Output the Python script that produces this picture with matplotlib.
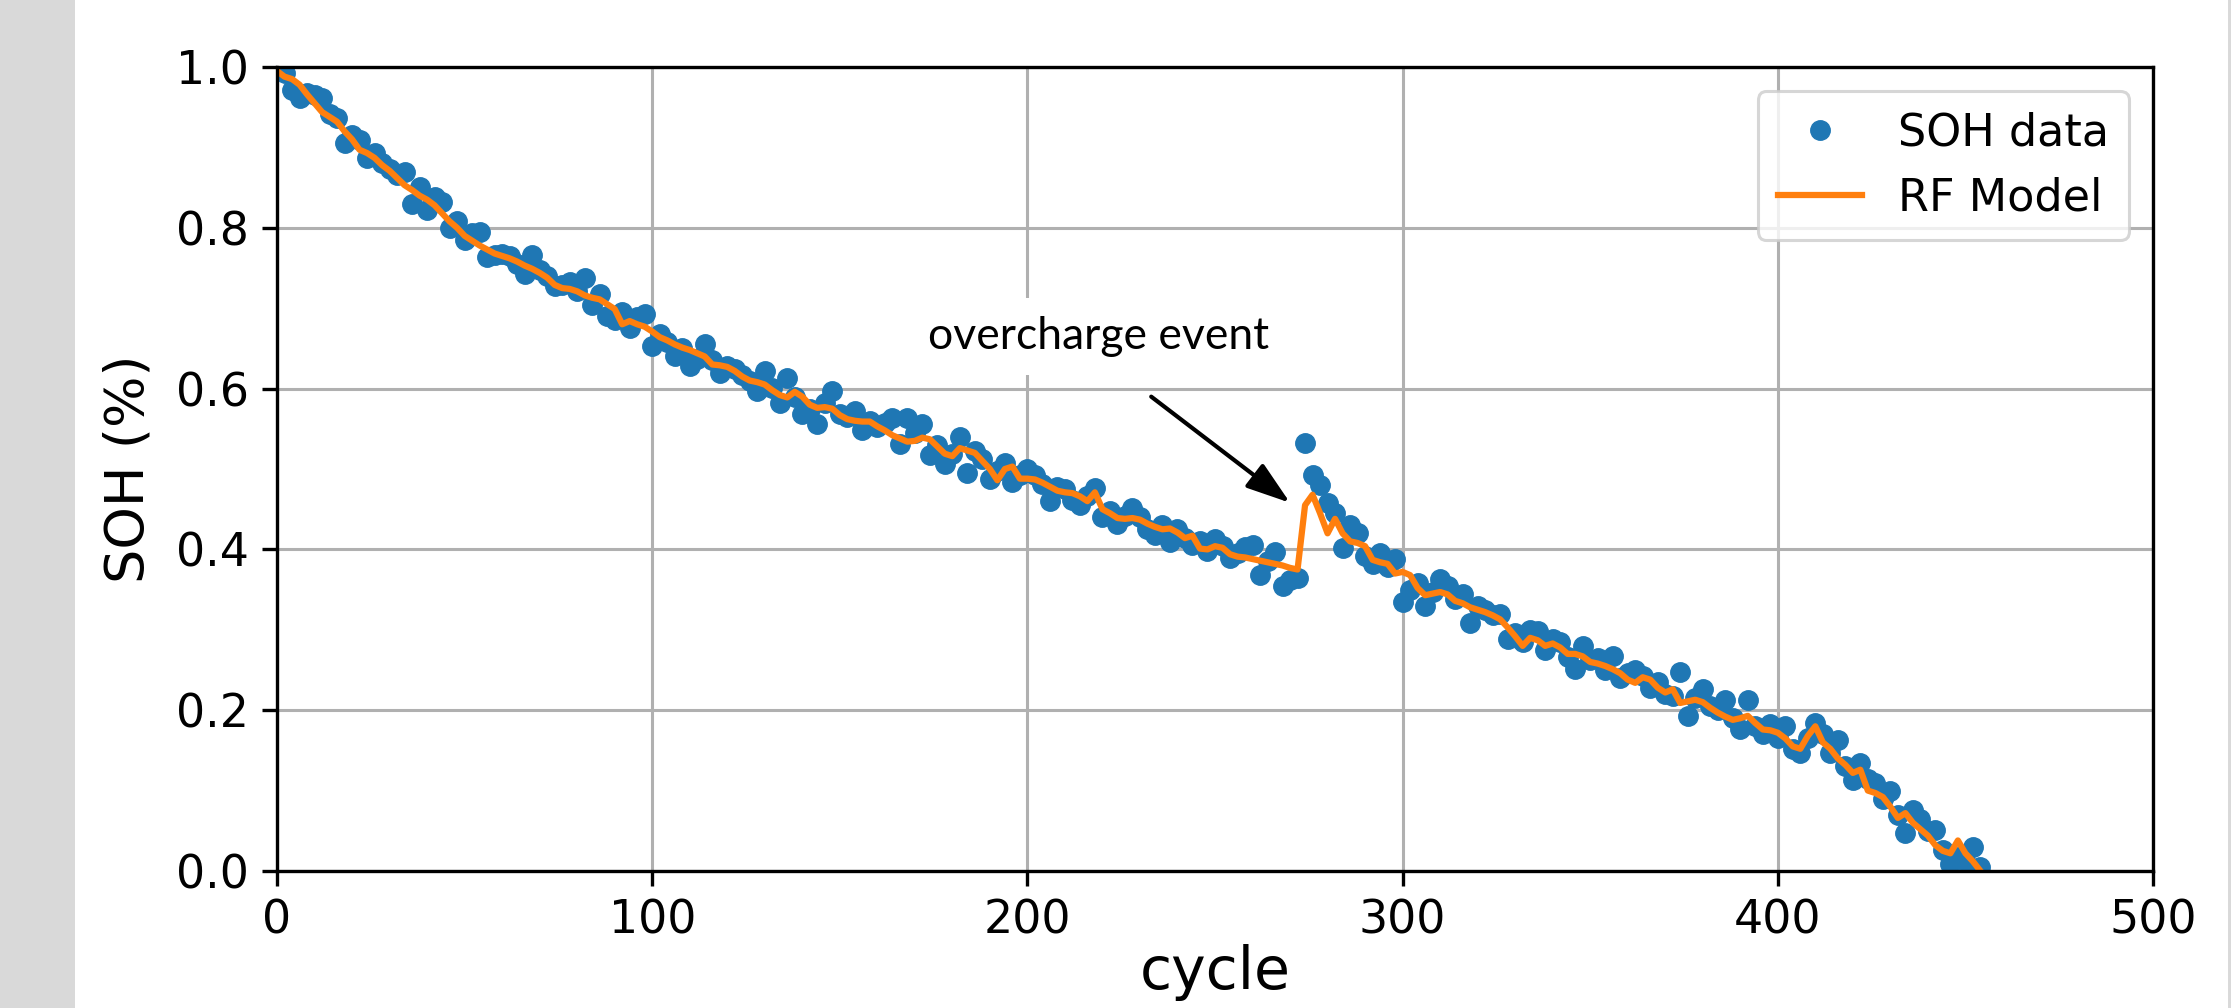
import numpy as np
import matplotlib
matplotlib.use("Agg")
import matplotlib.pyplot as plt
from matplotlib.patches import Rectangle

# SOH measurements, one value every 2 cycles (cycle 0, 2, 4, ...)
soh_data = [
    0.998, 0.993, 0.971, 0.962, 0.968, 0.965, 0.961, 0.941, 0.936, 0.905,  # 0-18
    0.915, 0.909, 0.887, 0.893, 0.880, 0.873, 0.866, 0.869, 0.829, 0.851,  # 20-38
    0.822, 0.838, 0.832, 0.800, 0.808, 0.785, 0.793, 0.795, 0.764, 0.766,  # 40-58
    0.768, 0.765, 0.755, 0.743, 0.766, 0.748, 0.740, 0.727, 0.729, 0.733,  # 60-78
    0.722, 0.737, 0.704, 0.718, 0.690, 0.685, 0.695, 0.675, 0.689, 0.693,  # 80-98
    0.653, 0.668, 0.658, 0.641, 0.650, 0.628, 0.637, 0.655, 0.636, 0.619,  # 100-118
    0.628, 0.625, 0.617, 0.609, 0.597, 0.622, 0.601, 0.582, 0.613, 0.590,  # 120-138
    0.569, 0.575, 0.556, 0.582, 0.597, 0.568, 0.565, 0.572, 0.548, 0.560,  # 140-158
    0.552, 0.557, 0.563, 0.531, 0.563, 0.545, 0.556, 0.518, 0.530, 0.506,  # 160-178
    0.519, 0.540, 0.495, 0.523, 0.512, 0.488, 0.497, 0.508, 0.484, 0.493,  # 180-198
    0.500, 0.492, 0.481, 0.460, 0.478, 0.475, 0.462, 0.455, 0.467, 0.476,  # 200-218
    0.440, 0.448, 0.432, 0.441, 0.451, 0.440, 0.425, 0.418, 0.430, 0.409,  # 220-238
    0.425, 0.414, 0.405, 0.410, 0.398, 0.413, 0.404, 0.389, 0.396, 0.403,  # 240-258
    0.405, 0.368, 0.386, 0.397, 0.355, 0.362, 0.365, 0.532, 0.492, 0.480,  # 260-278
    0.458, 0.445, 0.402, 0.430, 0.420, 0.392, 0.382, 0.395, 0.378, 0.388,  # 280-298
    0.334, 0.350, 0.358, 0.330, 0.347, 0.363, 0.355, 0.338, 0.345, 0.309,  # 300-318
    0.330, 0.325, 0.318, 0.320, 0.288, 0.296, 0.285, 0.300, 0.298, 0.275,  # 320-338
    0.288, 0.285, 0.266, 0.251, 0.280, 0.262, 0.265, 0.250, 0.268, 0.240,  # 340-358
    0.246, 0.250, 0.242, 0.228, 0.235, 0.220, 0.218, 0.247, 0.193, 0.215,  # 360-378
    0.226, 0.205, 0.200, 0.213, 0.190, 0.176, 0.213, 0.180, 0.170, 0.183,  # 380-398
    0.165, 0.180, 0.152, 0.147, 0.165, 0.184, 0.170, 0.147, 0.163, 0.130,  # 400-418
    0.113, 0.134, 0.115, 0.109, 0.090, 0.100, 0.070, 0.047, 0.076, 0.065,  # 420-438
    0.050, 0.051, 0.026, 0.009, 0.018, 0.012, 0.030, 0.005,                # 440-454
]

# random forest prediction at the same cycles
rf_model = [
    0.995, 0.988, 0.985, 0.978, 0.966, 0.955, 0.944, 0.938, 0.932, 0.920,  # 0-18
    0.910, 0.897, 0.893, 0.887, 0.878, 0.871, 0.862, 0.853, 0.847, 0.840,  # 20-38
    0.835, 0.828, 0.818, 0.808, 0.800, 0.790, 0.784, 0.778, 0.773, 0.768,  # 40-58
    0.765, 0.762, 0.758, 0.753, 0.749, 0.744, 0.738, 0.729, 0.725, 0.724,  # 60-78
    0.721, 0.716, 0.713, 0.711, 0.705, 0.699, 0.680, 0.684, 0.680, 0.677,  # 80-98
    0.671, 0.664, 0.660, 0.655, 0.651, 0.648, 0.644, 0.640, 0.630, 0.629,  # 100-118
    0.627, 0.622, 0.615, 0.610, 0.608, 0.605, 0.598, 0.592, 0.589, 0.596,  # 120-138
    0.590, 0.580, 0.576, 0.577, 0.575, 0.567, 0.562, 0.560, 0.559, 0.559,  # 140-158
    0.553, 0.548, 0.542, 0.538, 0.534, 0.535, 0.539, 0.537, 0.528, 0.519,  # 160-178
    0.516, 0.526, 0.523, 0.520, 0.510, 0.500, 0.486, 0.500, 0.503, 0.488,  # 180-198
    0.488, 0.487, 0.483, 0.478, 0.473, 0.471, 0.470, 0.466, 0.460, 0.471,  # 200-218
    0.450, 0.445, 0.439, 0.438, 0.439, 0.437, 0.432, 0.428, 0.425, 0.426,  # 220-238
    0.421, 0.414, 0.417, 0.401, 0.400, 0.404, 0.402, 0.394, 0.391, 0.390,  # 240-258
    0.388, 0.386, 0.384, 0.382, 0.380, 0.377, 0.375, 0.455, 0.468, 0.445,  # 260-278
    0.420, 0.438, 0.420, 0.410, 0.408, 0.404, 0.387, 0.384, 0.382, 0.370,  # 280-298
    0.372, 0.368, 0.352, 0.343, 0.345, 0.347, 0.344, 0.336, 0.333, 0.328,  # 300-318
    0.325, 0.322, 0.318, 0.313, 0.303, 0.292, 0.280, 0.290, 0.287, 0.280,  # 320-338
    0.283, 0.278, 0.270, 0.270, 0.267, 0.260, 0.258, 0.255, 0.251, 0.246,  # 340-358
    0.238, 0.234, 0.241, 0.238, 0.228, 0.222, 0.226, 0.209, 0.211, 0.213,  # 360-378
    0.210, 0.203, 0.197, 0.192, 0.188, 0.190, 0.193, 0.184, 0.176, 0.175,  # 380-398
    0.172, 0.165, 0.155, 0.152, 0.168, 0.180, 0.160, 0.152, 0.140, 0.132,  # 400-418
    0.122, 0.126, 0.100, 0.097, 0.092, 0.080, 0.066, 0.072, 0.060, 0.052,  # 420-438
    0.044, 0.032, 0.025, 0.022, 0.038, 0.022, 0.012, 0.000,                # 440-454
]

cycles = np.arange(0, 2 * len(soh_data), 2)

x_ticks = [0, 100, 200, 300, 400, 500]
y_ticks = [0.0, 0.2, 0.4, 0.6, 0.8, 1.0]

# where the overcharge note sits and what it points at (cycle, SOH)
note_text = "overcharge event"
note_pos = (219, 0.665)
arrow_tail = (233, 0.590)
arrow_tip = (270, 0.458)

W, H = 2231, 1008
fig = plt.figure(figsize=(W / 100, H / 100), dpi=100)
fig.patch.set_facecolor("white")

# grey slide margins on both sides
fig.patches.append(Rectangle((0, 0), 75 / W, 1, transform=fig.transFigure,
                             facecolor="#d9d9d9", edgecolor="none", zorder=0))
fig.patches.append(Rectangle((2228 / W, 0), 3 / W, 1, transform=fig.transFigure,
                             facecolor="#d9d9d9", edgecolor="none", zorder=0))

ax = fig.add_axes([277 / W, 1 - 871 / H, (2153 - 277) / W, (871 - 67) / H])

ax.plot(cycles, soh_data, "o", color="#1f77b4", markersize=14, label="SOH data")
ax.plot(cycles, rf_model, "-", color="#ff7f0e", linewidth=4.5, label="RF Model")

ax.set_xlim(0, 500)
ax.set_ylim(0, 1.0)
ax.set_xticks(x_ticks)
ax.set_yticks(y_ticks)
ax.set_yticklabels([f"{t:.1f}" for t in y_ticks])
ax.grid(True, color="#b0b0b0", linewidth=2.2)
ax.set_axisbelow(True)

for s in ax.spines.values():
    s.set_linewidth(2.4)
ax.tick_params(labelsize=33, length=11, width=2.4, pad=9)

ax.set_xlabel("cycle", fontsize=42, labelpad=0)
ax.set_ylabel("SOH (%)", fontsize=39, labelpad=16)

leg = ax.legend(loc="upper right", fontsize=32, borderaxespad=0.55,
                handlelength=1.9, handletextpad=0.8, borderpad=0.45,
                framealpha=0.8)
leg.get_frame().set_linewidth(2.2)

ax.text(note_pos[0], note_pos[1], note_text, fontsize=32, family="Lato",
        ha="center", va="center", zorder=5,
        bbox=dict(facecolor="white", edgecolor="none", pad=13))
ax.annotate("", xy=arrow_tip, xytext=arrow_tail, zorder=6,
            arrowprops=dict(arrowstyle="-|>,head_length=0.9,head_width=0.3",
                            color="black", linewidth=3, mutation_scale=30,
                            shrinkA=0, shrinkB=0))

fig.savefig("out.png", dpi=100)
